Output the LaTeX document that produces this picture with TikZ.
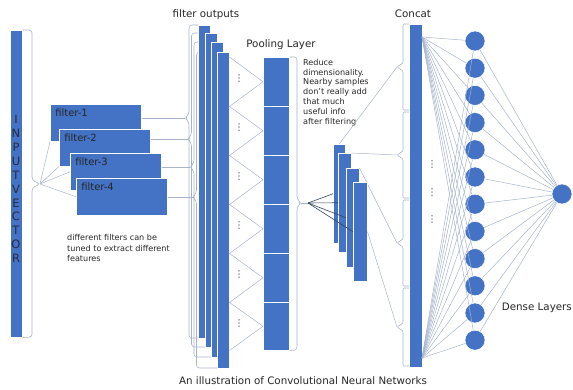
\documentclass[tikz,border=0pt]{standalone}
\usepackage{fontspec}
\setmainfont{DejaVu Sans}
\usepackage{tikz}

\definecolor{barblue}{HTML}{4472C4}
\definecolor{linegrey}{HTML}{A7B4CC}
\definecolor{fanline}{HTML}{34445F}
\definecolor{lettergrey}{HTML}{262B40}

\tikzset{
  layer/.style={draw=white, line width=0.5pt, fill=barblue, inner sep=0pt, anchor=north west},
  filterbox/.style={layer, text width=81pt, inner xsep=5pt, inner ysep=0pt,
    text height=12pt, text depth=25pt, align=left, font=\fontsize{10}{11}\selectfont, text=black!85},
  neuron/.style={circle, fill=barblue, draw=white, line width=0.5pt, minimum size=20pt, inner sep=0pt},
  bracket/.style={draw=linegrey, line width=0.6pt, rounded corners=3pt},
  link/.style={draw=linegrey, line width=0.5pt},
  darklink/.style={draw=fanline, line width=0.6pt},
  caption/.style={font=\fontsize{10.3}{12}\selectfont, text=black!85},
  note/.style={font=\fontsize{8.1}{9.8}\selectfont, align=left, anchor=north west, inner sep=0pt, text=black!85},
  dots/.style={font=\fontsize{9.5}{9.5}\selectfont, inner sep=0pt, text=black!75}
}

\begin{document}
\begin{tikzpicture}[x=1pt,y=-1pt]
\useasboundingbox (0,0) rectangle (573,390);

% input
\node[layer, minimum width=12pt, minimum height=307pt] (input) at (10,30) {};
\node[font=\fontsize{11.5}{13.9}\selectfont, align=center, text=lettergrey] (inputtext) at (16,189)
  {I\\N\\P\\U\\T\\V\\E\\C\\T\\O\\R};
\coordinate (intip) at (40,184);
\draw[bracket] (input.north east) -- (32,30) -- (32,180) -- (intip) -- (32,188) -- (32,337) -- (input.south east);

% filters
\node[filterbox] (f1) at (50,104) {filter-1};
\node[filterbox] (f2) at (59,129) {filter-2};
\node[filterbox] (f3) at (70,153) {filter-3};
\node[filterbox] (f4) at (76,178) {filter-4};
\draw[link] (intip) -- (f1.south west);
\draw[link] (intip) -- (f2.south west);
\draw[link] (intip) -- (f3.west);
\draw[link] (intip) -- (f4.west);
\node[note, font=\fontsize{8.1}{10.8}\selectfont] (filternote) at (67,234) {different filters can be\\tuned to extract different\\features};

% filter outputs
\coordinate (t1) at (185,118);
\coordinate (t2) at (187.5,139);
\coordinate (t3) at (190,167);
\coordinate (t4) at (192.5,197);
\draw[link] (f1.east |- t1) -- (t1);
\draw[link] (f2.east |- t2) -- (t2);
\draw[link] (f3.east |- t3) -- (t3);
\draw[link] (f4.east |- t4) -- (t4);
\draw[bracket] (198,25) -- (189,25) -- (189,114) -- (t1) -- (189,122) -- (189,338) -- (198,338);
\draw[bracket] (205,33) -- (191.5,33) -- (191.5,135) -- (t2) -- (191.5,143) -- (191.5,347) -- (205,347);
\draw[bracket] (211,42) -- (194,42) -- (194,163) -- (t3) -- (194,171) -- (194,357) -- (211,357);
\draw[bracket] (217,52) -- (196.5,52) -- (196.5,193) -- (t4) -- (196.5,201) -- (196.5,368) -- (217,368);
\node[layer, minimum width=12pt, minimum height=313pt] (o1) at (198,25) {};
\node[layer, minimum width=12pt, minimum height=314pt] (o2) at (205,33) {};
\node[layer, minimum width=12pt, minimum height=315pt] (o3) at (211,42) {};
\node[layer, minimum width=12pt, minimum height=316pt] (o4) at (217,52) {};
\node[caption] (outlabel) at (206,15) {filter outputs};

% pooling
\node[layer, minimum width=26pt, minimum height=49pt] (p1) at (263,57) {};
\node[layer, minimum width=26pt, minimum height=49pt] (p2) at (263,106) {};
\node[layer, minimum width=26pt, minimum height=49pt] (p3) at (263,155) {};
\node[layer, minimum width=26pt, minimum height=49pt] (p4) at (263,204) {};
\node[layer, minimum width=26pt, minimum height=49pt] (p5) at (263,253) {};
\node[layer, minimum width=26pt, minimum height=48pt] (p6) at (263,302) {};
\draw[link] (o4.east |- p1.north) -- (p1.west) -- (o4.east |- p1.south) -- (p2.west)
  -- (o4.east |- p2.south) -- (p3.west) -- (o4.east |- p3.south) -- (p4.west)
  -- (o4.east |- p4.south) -- (p5.west) -- (o4.east |- p5.south) -- (p6.west)
  -- (o4.east |- p6.south);
\node[dots] at (239,79) {⋮};
\node[dots] at (239,128) {⋮};
\node[dots] at (239,177) {⋮};
\node[dots] at (239,226) {⋮};
\node[dots] at (239,275) {⋮};
\node[dots] at (239,324) {⋮};
\node[caption] (poollabel) at (281,45) {Pooling Layer};
\node[note] (poolnote) at (303,59) {Reduce\\dimensionality.\\Nearby samples\\don't really add\\that much\\useful info\\after filtering};
\coordinate (pooltip) at (301,203);
\coordinate (fan) at (308,203);
\draw[bracket] (p1.north east) -- (297,57) -- (297,199) -- (pooltip) -- (297,207) -- (297,350) -- (p6.south east);
\draw[link] (pooltip) -- (fan);

% concat
\node[layer, minimum width=13pt, minimum height=343pt] (cc) at (409,24) {};
\node[caption] (cclabel) at (413,14) {Concat};
\coordinate (k1) at (397,67);
\coordinate (k2) at (397,155);
\coordinate (k3) at (397,243);
\coordinate (k4) at (397,327);
\draw[bracket, rounded corners=1pt] (409,24) -- (403,24) -- (403,63) -- (k1) -- (403,71) -- (403,110) -- (409,110);
\draw[bracket, rounded corners=1pt] (409,112) -- (403,112) -- (403,151) -- (k2) -- (403,159) -- (403,198) -- (409,198);
\draw[bracket, rounded corners=1pt] (409,200) -- (403,200) -- (403,239) -- (k3) -- (403,247) -- (403,286) -- (409,286);
\draw[bracket, rounded corners=1pt] (409,288) -- (403,288) -- (403,323) -- (k4) -- (403,331) -- (403,366) -- (409,366);
\node[layer, minimum width=12pt, minimum height=99pt] (s1) at (333,144) {};
\node[layer, minimum width=13pt, minimum height=99pt] (s2) at (338,153) {};
\node[layer, minimum width=13pt, minimum height=99pt] (s3) at (346,168) {};
\draw[link] (s1.north) -- (k1);
\draw[link] (s2.north east) -- (k2);
\draw[link] (s3.north east) -- (k3);
\node[layer, minimum width=14pt, minimum height=99pt] (s4) at (353,182) {};
\draw[link] (s4.east) -- (k4);
\draw[darklink] (fan) -- (s1.west);
\draw[darklink] (fan) -- (s2.west);
\draw[darklink] (fan) -- (s3.west);
\draw[darklink] (fan) -- (s4.west);

% dense
\foreach \i in {1,...,12}
  \node[neuron] (d\i) at (475,{41+27.2*(\i-1)}) {};
\node[neuron] (out) at (562,194) {};
\coordinate (ctop) at (422,37);
\coordinate (cbot) at (422,358);
\foreach \i in {1,...,12} {
  \draw[link] (ctop) -- (d\i);
  \draw[link] (cbot) -- (d\i);
  \draw[link] (d\i) -- (out);
}
\node[dots] at (432,165) {⋮};
\node[dots] at (432,193) {⋮};
\node[dots] at (432,220) {⋮};
\node[caption, anchor=east, inner sep=0pt] (denselabel) at (572,308) {Dense Layers};

\node[caption] (title) at (303,381) {An illustration of Convolutional Neural Networks};
\end{tikzpicture}
\end{document}
